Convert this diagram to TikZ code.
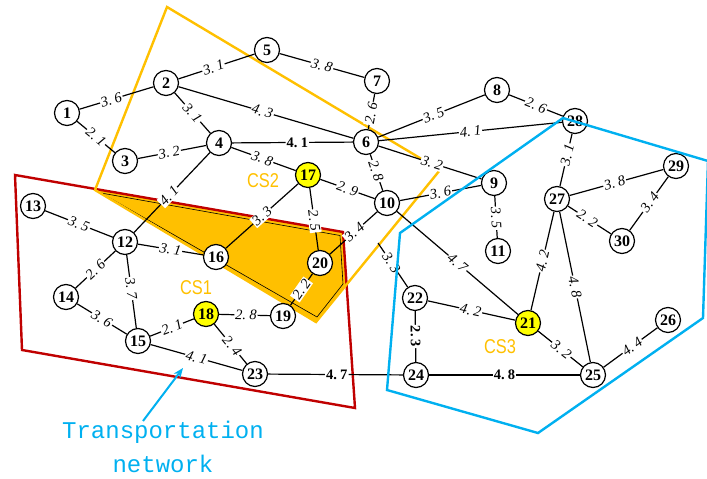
\documentclass[tikz,border=0pt]{standalone}
\usepackage{fontspec}
\setmainfont{Liberation Serif}
\newfontfamily\monofam{Liberation Mono}
\newfontfamily\labelsans{Liberation Sans}
\usetikzlibrary{arrows.meta}
\definecolor{csorange}{HTML}{FFC000}
\definecolor{csblue}{HTML}{00B0F0}
\definecolor{csred}{HTML}{C00000}
\definecolor{hubyellow}{HTML}{FFFF00}
\pgfdeclarelayer{bg}
\pgfdeclarelayer{fg}
\pgfsetlayers{bg,main,fg}
\newcommand{\wv}[2]{#1.\kern3.2pt#2}
\tikzset{
  stn/.style={circle, draw, line width=1.2pt, fill=white, minimum size=25pt,
    inner sep=0pt, font=\bfseries\fontsize{16}{16}\selectfont},
  hub/.style={stn, fill=hubyellow},
  road/.style={line width=1.2pt},
  wgt/.style={sloped, fill=white, inner sep=1pt, font=\itshape\fontsize{14.5}{14.5}\selectfont},
  bwgt/.style={wgt, font=\bfseries\fontsize{14.5}{14.5}\selectfont},
  zone/.style={line width=2.4pt, line join=miter},
  cslabel/.style={text=csorange, font=\labelsans\fontsize{20}{20}\selectfont, xscale=0.82},
}
\begin{document}
\begin{tikzpicture}[x=1pt, y=-1pt]
\useasboundingbox (0,0) rectangle (707,479);

% stations
\node[stn] (n1) at (67,113) {1};
\node[stn] (n2) at (166,83) {2};
\node[stn] (n3) at (125,161) {3};
\node[stn] (n4) at (219,143) {4};
\node[stn] (n5) at (267,50) {5};
\node[stn] (n6) at (366,142) {6};
\node[stn] (n7) at (377,81) {7};
\node[stn] (n8) at (497,90) {8};
\node[stn] (n9) at (494,183) {9};
\node[stn] (n10) at (387,203) {10};
\node[stn] (n11) at (498,251) {11};
\node[stn] (n12) at (125,242) {12};
\node[stn] (n13) at (33,206) {13};
\node[stn] (n14) at (66,297) {14};
\node[stn] (n15) at (138,341) {15};
\node[stn] (n16) at (216,257) {16};
\node[hub] (n17) at (308,175) {17};
\node[hub] (n18) at (206,314) {18};
\node[stn] (n19) at (283,316) {19};
\node[stn] (n20) at (320,263) {20};
\node[hub] (n21) at (528,323) {21};
\node[stn] (n22) at (415,298) {22};
\node[stn] (n23) at (255,374) {23};
\node[stn] (n24) at (416,375) {24};
\node[stn] (n25) at (593,375) {25};
\node[stn] (n26) at (668,320) {26};
\node[stn] (n27) at (557,199) {27};
\node[stn] (n28) at (575,121) {28};
\node[stn] (n29) at (676,166) {29};
\node[stn] (n30) at (622,241) {30};
\coordinate (c22) at (378,243);

% zone labels
\node[cslabel] (lcs1) at (196,288) {CS1};
\node[cslabel] (lcs2) at (263,181) {CS2};
\node[cslabel] (lcs3) at (500,347) {CS3};

\begin{pgfonlayer}{bg}
  % overlap of CS1 and CS2
  \fill[csorange] (95.4,189) -- (343,232) -- (346.6,284.5) -- (316,322) -- cycle;
  \draw[line width=0.6pt] (101,193) -- (340,235.5) -- (343,284) -- (317,317) -- cycle;
  % CS1 boundary
  \draw[zone, csred] (15,175) -- (343,232) -- (355,408) -- (22,350) -- cycle;
  % CS2 boundary
  \draw[zone, csorange] (167,7) -- (440,170) -- (316,322) -- (95,190) -- cycle;

  % roads
  \draw[road] (n1) -- node[wgt, pos=0.43] {\wv36} (n2);
  \draw[road] (n1) -- node[wgt] {\wv21} (n3);
  \draw[road] (n2) -- node[wgt, pos=0.46] {\wv31} (n5);
  \draw[road] (n2) -- node[wgt] {\wv31} (n4);
  \draw[road] (n2) -- node[wgt, pos=0.48] {\wv43} (n6);
  \draw[road] (n3) -- node[wgt, pos=0.46] {\wv32} (n4);
  \draw[road] (n4) -- node[bwgt, pos=0.54] {\wv41} (n6);
  \draw[road] (n4) -- node[wgt, pos=0.48] {\wv38} (n17);
  \draw[road] (n4) -- node[wgt, pos=0.54] {\wv41} (n12);
  \draw[road] (n5) -- node[wgt] {\wv38} (n7);
  \draw[road] (n7) -- node[wgt, pos=0.55] {\wv26} (n6);
  \draw[road] (n6) -- node[wgt, pos=0.52] {\wv35} (n8);
  \draw[road] (n6) -- node[wgt] {\wv41} (n28);
  \draw[road] (n6) -- node[wgt, pos=0.52] {\wv32} (n9);
  \draw[road] (n6) -- node[wgt, pos=0.46] {\wv28} (n10);
  \draw[road] (n8) -- node[wgt] {\wv26} (n28);
  \draw[road] (n28) -- node[wgt, pos=0.4] {\wv31} (n27);
  \draw[road] (n27) -- node[wgt, pos=0.48] {\wv38} (n29);
  \draw[road] (n29) -- node[wgt, pos=0.48] {\wv34} (n30);
  \draw[road] (n27) -- node[wgt, pos=0.45] {\wv22} (n30);
  \draw[road] (n27) -- node[wgt] {\wv42} (n21);
  \draw[road] (n27) -- node[wgt] {\wv48} (n25);
  \draw[road] (n9) -- node[wgt, pos=0.53] {\wv35} (n11);
  \draw[road] (n10) -- node[wgt] {\wv36} (n9);
  \draw[road] (n17) -- node[wgt] {\wv29} (n10);
  \draw[road] (n17) -- node[wgt] {\wv33} (n16);
  \draw[road] (n17) -- node[wgt, pos=0.53] {\wv25} (n20);
  \draw[road] (n10) -- node[wgt, pos=0.48] {\wv34} (n20);
  \draw[road] (c22) -- node[wgt, pos=0.45] {\wv33} (n22);
  \draw[road] (n10) -- node[wgt] {\wv47} (n21);
  \draw[road] (n20) -- node[wgt] {\wv22} (n19);
  \draw[road] (n12) -- node[wgt] {\wv35} (n13);
  \draw[road] (n12) -- node[wgt] {\wv31} (n16);
  \draw[road] (n12) -- node[wgt] {\wv26} (n14);
  \draw[road] (n12) -- node[wgt, pos=0.46] {\wv37} (n15);
  \draw[road] (n14) -- node[wgt] {\wv36} (n15);
  \draw[road] (n15) -- node[wgt] {\wv21} (n18);
  \draw[road] (n18) -- node[wgt, pos=0.53] {\wv28} (n19);
  \draw[road] (n18) -- node[wgt, pos=0.55] {\wv24} (n23);
  \draw[road] (n15) -- node[wgt] {\wv41} (n23);
  \draw[road] (n23) -- node[bwgt, pos=0.51] {\wv47} (n24);
  \draw[road] (n22) -- node[bwgt] {\wv23} (n24);
  \draw[road] (n22) -- node[wgt, pos=0.49] {\wv42} (n21);
  \draw[road] (n21) -- node[wgt, pos=0.52] {\wv32} (n25);
  \draw[road] (n24) -- node[bwgt] {\wv48} (n25);
  \draw[road] (n25) -- node[wgt, pos=0.53] {\wv44} (n26);
\end{pgfonlayer}

\begin{pgfonlayer}{fg}
  % CS3 boundary
  \draw[zone, csblue] (563,118) -- (708,161) -- (703,318) -- (538,433) -- (387,390) -- (400,233) -- cycle;
\end{pgfonlayer}

% caption with pointer
\node[text=csblue, font=\monofam\fontsize{24}{24}\selectfont] (cap1) at (163,432) {Transportation};
\node[text=csblue, font=\monofam\fontsize{24}{24}\selectfont] (cap2) at (163,464) {network};
\coordinate (arrtail) at (143,421);
\coordinate (arrhead) at (183,368);
\draw[csblue, line width=2pt, -{Stealth[length=10pt, width=8pt]}] (arrtail) -- (arrhead);
\end{tikzpicture}
\end{document}
